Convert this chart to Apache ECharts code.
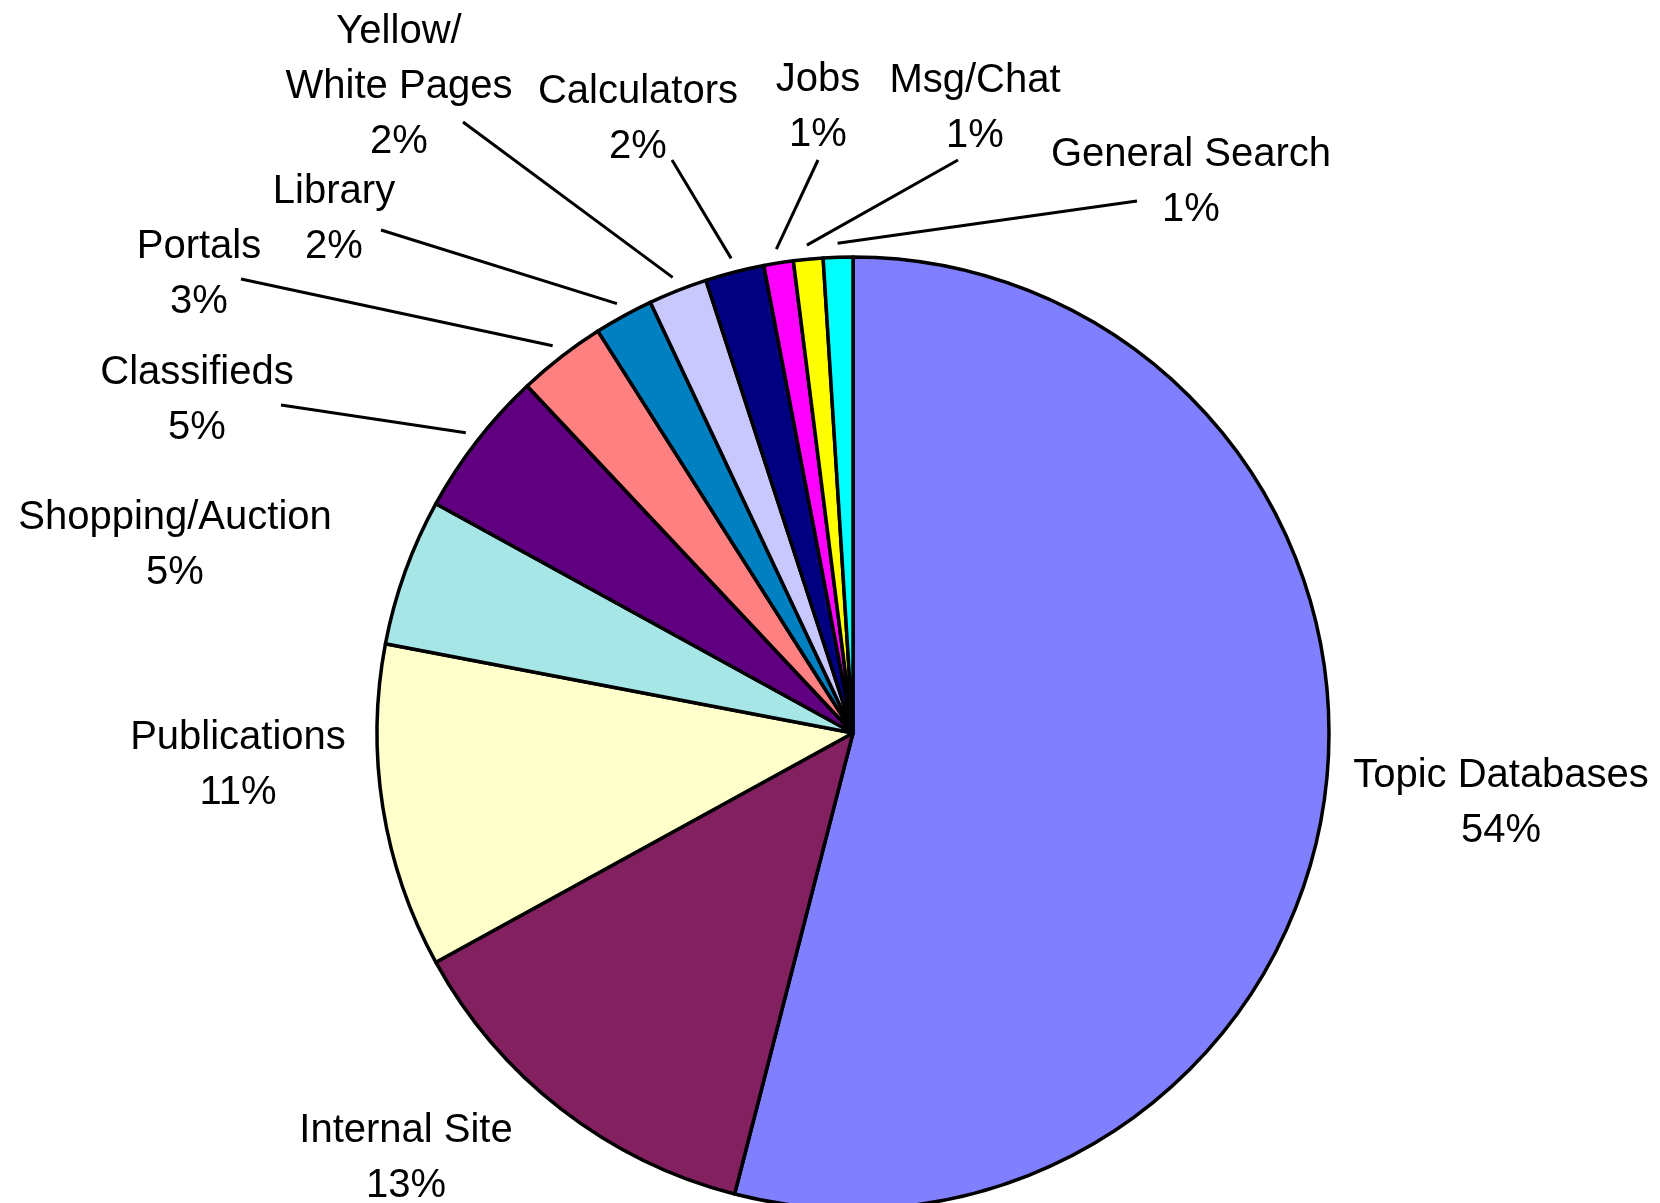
<!DOCTYPE html>
<html>
<head>
<meta charset="utf-8">
<title>Search resource types</title>
<script src="https://cdn.jsdelivr.net/npm/echarts@6/dist/echarts.min.js"></script>
<style>
  html, body { margin: 0; padding: 0; background: #ffffff; }
  #chart { width: 1660px; height: 1203px; }
</style>
</head>
<body>
<div id="chart"></div>
<script>
// Share of searches by resource type, in percent (clockwise from 12 o'clock)
const categories = [
  'Topic Databases', 'Internal Site', 'Publications', 'Shopping/Auction',
  'Classifieds', 'Portals', 'Library', 'Yellow/\nWhite Pages',
  'Calculators', 'Jobs', 'Msg/Chat', 'General Search'
];
const shares = [54, 13, 11, 5, 5, 3, 2, 2, 2, 1, 1, 1];

// Slice fills, same order as the categories
const sliceColors = [
  '#8080FF', '#822060', '#FFFFCC', '#A6E6E6',
  '#600080', '#FF8080', '#0080C0', '#C8C8FF',
  '#000080', '#FF00FF', '#FFFF00', '#00FFFF'
];

// Where each label block is centred, and the label-side end of its leader line
const labelSpots = [
  [1501, 803], [406, 1158], [238, 765], [175, 545],
  [197, 400], [199, 274], [334, 219], [399, 87],
  [638, 119], [818, 107], [975, 108], [1191, 182]
];
const leaderEnds = [
  null, null, null, null,
  [281, 405], [241, 279], [381, 230], [463, 122],
  [672, 160], [818, 160], [958, 160], [1137, 201]
];
const leaderGap = 14; // space between the rim and the start of a leader line

const chart = echarts.init(document.getElementById('chart'), null, { renderer: 'canvas' });

const pieData = categories.map((name, i) => ({
  name: name,
  value: shares[i],
  itemStyle: { color: sliceColors[i] },
  labelLine: { show: leaderEnds[i] !== null }
}));

chart.setOption({
  backgroundColor: '#ffffff',
  animation: false,
  series: [{
    type: 'pie',
    center: [853, 733],
    radius: 476,
    startAngle: 90,
    clockwise: true,
    avoidLabelOverlap: false,
    silent: true,
    data: pieData,
    itemStyle: { borderColor: '#000000', borderWidth: 3.5 },
    emphasis: { disabled: true },
    label: {
      show: true,
      position: 'outside',
      formatter: '{b}\n{c}%',
      fontFamily: '"Liberation Sans", Arial, sans-serif',
      fontSize: 40,
      lineHeight: 55,
      color: '#000000',
      overflow: 'none',
      bleedMargin: 0
    },
    labelLine: {
      show: true,
      length: 20,
      length2: 10,
      smooth: false,
      lineStyle: { color: '#000000', width: 3 }
    },
    labelLayout: function (params) {
      const i = params.dataIndex;
      const out = {
        x: labelSpots[i][0],
        y: labelSpots[i][1],
        align: 'center',
        verticalAlign: 'middle'
      };
      const end = leaderEnds[i];
      const pts = params.labelLinePoints;
      if (end && pts && pts.length > 1) {
        // push the start point out along the slice's radial direction
        const dx = pts[1][0] - pts[0][0];
        const dy = pts[1][1] - pts[0][1];
        const len = Math.hypot(dx, dy) || 1;
        out.labelLinePoints = [
          [pts[0][0] + dx / len * leaderGap, pts[0][1] + dy / len * leaderGap],
          end
        ];
      }
      return out;
    }
  }]
});
</script>
</body>
</html>
